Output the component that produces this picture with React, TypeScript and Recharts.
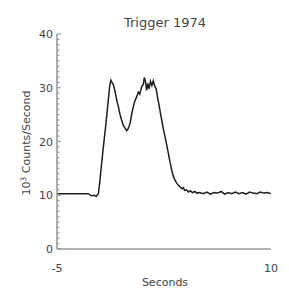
import { Line, LineChart, XAxis, YAxis } from "recharts";

const seconds = [
  -5, -3.5, -2.8, -2.6, -2.4, -2.25, -2.1, -2.0, -1.92, -1.75, -1.59, -1.45, -1.3, -1.22, -1.15,
  -1.05, -0.94, -0.82, -0.7, -0.58, -0.47, -0.35, -0.23, -0.12, -0.05, 0.05, 0.12, 0.23, 0.35,
  0.45, 0.58, 0.7, 0.8, 0.94, 1.05, 1.12, 1.2, 1.28, 1.36, 1.45, 1.55, 1.65, 1.75, 1.85, 1.95,
  2.05, 2.15, 2.25, 2.34, 2.45, 2.57, 2.68, 2.8, 2.92, 3.04, 3.15, 3.27, 3.4, 3.5, 3.62, 3.75,
  3.85, 3.95, 4.09, 4.2, 4.35, 4.5, 4.67, 4.8, 5.0, 5.25, 5.5, 5.75, 6.0, 6.25, 6.5, 6.75, 7.0,
  7.25, 7.5, 7.75, 8.0, 8.25, 8.5, 8.75, 9.0, 9.25, 9.5, 9.75, 10,
];
const counts = [
  10.3, 10.3, 10.3, 9.9, 10.0, 9.8, 10.3, 12.5, 14.7, 19.0, 22.8, 26.5, 30.5, 31.4, 31.0,
  30.6, 29.4, 27.8, 26.5, 25.0, 24.0, 23.0, 22.5, 22.0, 22.2, 22.8, 23.4, 25.0, 26.5,
  27.5, 28.3, 29.2, 28.8, 30.2, 30.6, 31.9, 31.2, 29.5, 30.8, 29.8, 31.2, 30.4, 31.3, 30.3, 29.8,
  28.2, 26.8, 25.3, 24.0, 22.4, 20.9, 19.5, 17.9, 16.2, 14.7, 13.6, 12.8, 12.2, 11.9, 11.6, 11.2,
  11.4, 10.9, 11.0, 10.6, 10.8, 10.5, 10.7, 10.4, 10.5, 10.3, 10.6, 10.2, 10.5, 10.4, 10.7, 10.2, 10.5,
  10.3, 10.6, 10.3, 10.5, 10.2, 10.6, 10.4, 10.3, 10.6, 10.4, 10.5, 10.3,
];
const xTicks = [-5, 10];
const yMajor = [0, 10, 20, 30, 40];
const yTicks = Array.from({ length: 41 }, (_, i) => i);

const data = seconds.map((t, i) => ({ t, v: counts[i] }));

const font = "'DejaVu Sans', sans-serif";
const ink = "#444";
const frame = "#9a9a9a";

function LeftTick({ x, y, payload }: any) {
  const major = yMajor.includes(payload.value);
  return (
    <g>
      <line x1={x} x2={x + (major ? 4 : 2.5)} y1={y} y2={y} stroke={frame} strokeWidth={1.2} />
      {major && (
        <text x={x - 4} y={y} dy={4} textAnchor="end" fontSize={11} fill={ink} fontFamily={font}>
          {payload.value}
        </text>
      )}
    </g>
  );
}

function RightTick({ x, y, payload }: any) {
  const major = yMajor.includes(payload.value);
  return <line x1={x} x2={x - (major ? 4 : 2.5)} y1={y} y2={y} stroke={frame} strokeWidth={1.2} />;
}

export default function App() {
  return (
    <div style={{ position: "absolute", left: 0, top: 0, width: 289, height: 292, background: "#fff" }}>
      <LineChart width={289} height={292} data={data} margin={{ top: 34, right: 18, bottom: 0, left: 0 }}>
        <text x={165} y={27} textAnchor="middle" fontSize={13} fill={ink} fontFamily={font}>
          Trigger 1974
        </text>
        <text
          x={0}
          y={0}
          transform="translate(30,143) rotate(-90)"
          textAnchor="middle"
          fontSize={11}
          fill={ink}
          fontFamily={font}
        >
          10
          <tspan fontSize={7.5} dy={-4}>3</tspan>
          <tspan dy={4}> Counts/Second</tspan>
        </text>
        <text x={165} y={286} textAnchor="middle" fontSize={11} fill={ink} fontFamily={font}>
          Seconds
        </text>
        <XAxis
          dataKey="t"
          type="number"
          domain={[-5, 10]}
          ticks={xTicks}
          height={43}
          tickLine={false}
          tickMargin={9}
          axisLine={{ stroke: frame, strokeWidth: 1.6 }}
          tick={{ fontSize: 11, fill: ink, fontFamily: font }}
        />
        <XAxis
          xAxisId="top"
          dataKey="t"
          type="number"
          domain={[-5, 10]}
          orientation="top"
          height={0}
          tick={false}
          tickLine={false}
          axisLine={{ stroke: frame, strokeWidth: 1.6 }}
        />
        <YAxis
          type="number"
          domain={[0, 40]}
          ticks={yTicks}
          interval={0}
          width={57}
          tickSize={0}
          tickMargin={0}
          tickLine={false}
          axisLine={{ stroke: frame, strokeWidth: 1.6 }}
          tick={<LeftTick />}
        />
        <YAxis
          yAxisId="right"
          orientation="right"
          type="number"
          domain={[0, 40]}
          ticks={yTicks}
          interval={0}
          width={0}
          tickSize={0}
          tickMargin={0}
          tickLine={false}
          axisLine={{ stroke: frame, strokeWidth: 1.6 }}
          tick={<RightTick />}
        />
        <Line
          dataKey="v"
          type="linear"
          stroke="#1e1e1e"
          strokeWidth={1.5}
          dot={false}
          isAnimationActive={false}
        />
      </LineChart>
    </div>
  );
}
